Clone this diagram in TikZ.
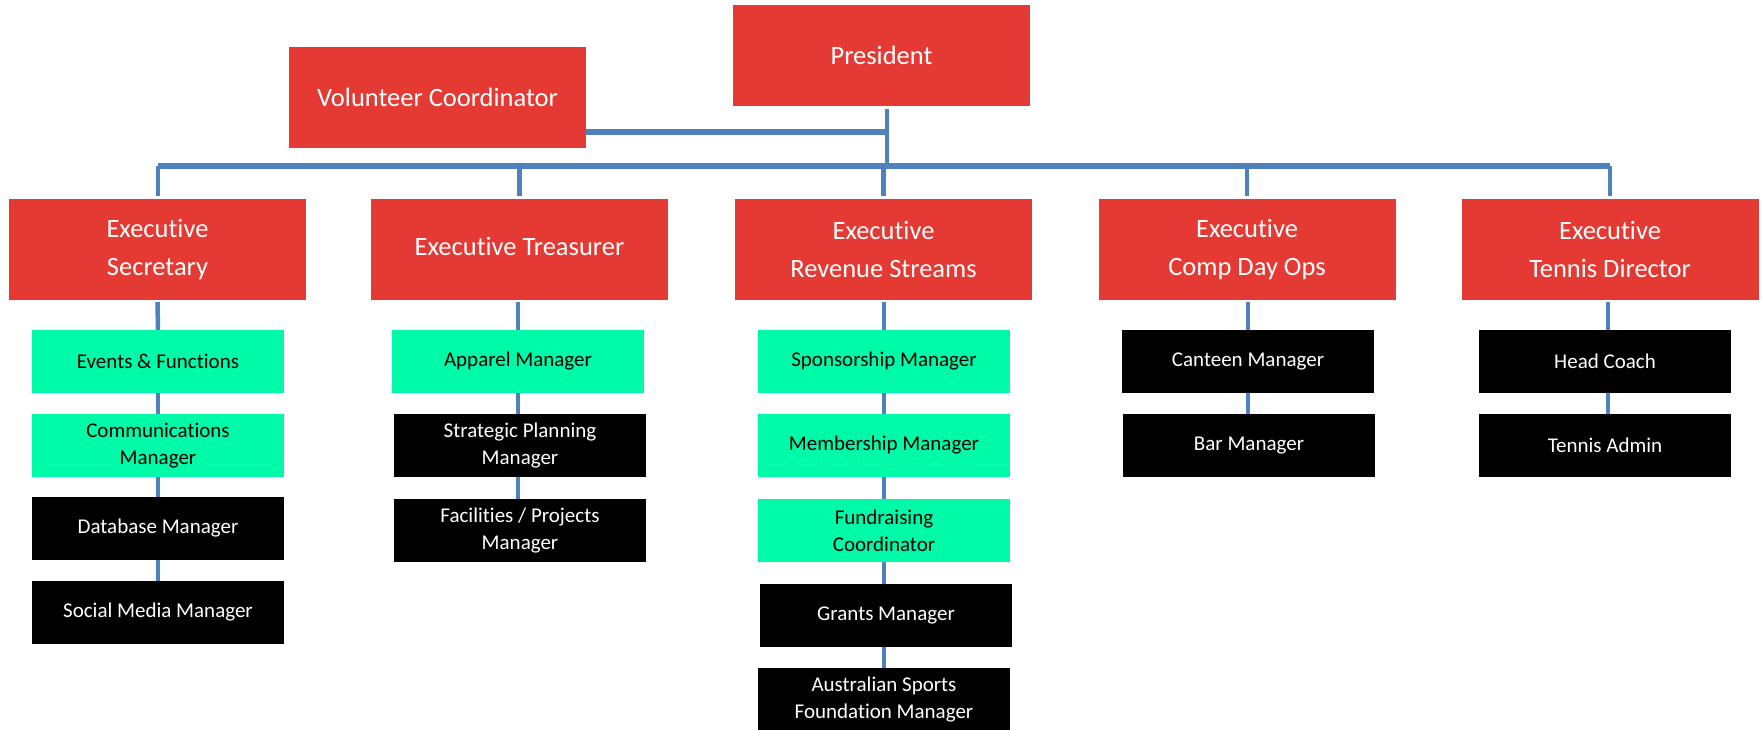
\documentclass[tikz,border=0pt]{standalone}
\usepackage{fontspec}
\setmainfont[Ligatures=NoCommon]{Carlito}
\definecolor{boxred}{HTML}{E53A33}
\definecolor{boxgreen}{HTML}{00FBA8}
\definecolor{linkblue}{HTML}{4F81BD}
\begin{document}
\begin{tikzpicture}[x=1pt,y=-1pt,
  redbox/.style={fill=boxred,text=white,minimum width=297pt,minimum height=101pt,inner sep=0pt,outer sep=0pt,align=center,font=\fontsize{26.5}{38}\selectfont},
  greenbox/.style={fill=boxgreen,text=black,minimum width=252pt,minimum height=63pt,inner sep=0pt,outer sep=0pt,align=center,font=\fontsize{21}{27}\selectfont},
  blackbox/.style={fill=black,text=white,minimum width=252pt,minimum height=63pt,inner sep=0pt,outer sep=0pt,align=center,font=\fontsize{21}{27}\selectfont},
  link/.style={draw=linkblue,line width=4.5pt},
  buslink/.style={draw=linkblue,line width=5.5pt}]
\useasboundingbox (0,0) rectangle (1763,729);
% top level
\node[redbox] (pres) at (881.5,55.5) {President};
\node[redbox] (vol) at (437.5,97.5) {Volunteer Coordinator};
% executives
\node[redbox] (e1) at (157.5,249.5) {Executive\\Secretary};
\node[redbox,text depth=6pt] (e2) at (519.5,249.5) {Executive Treasurer};
\node[redbox] (e3) at (883.5,249.5) {Executive\\Revenue Streams};
\node[redbox] (e4) at (1247,249.5) {Executive\\Comp Day Ops};
\node[redbox] (e5) at (1610,249.5) {Executive\\Tennis Director};
% column 1
\node[greenbox] (c1a) at (158,361.5) {Events \& Functions};
\node[greenbox] (c1b) at (158,445.5) {Communications\\Manager};
\node[blackbox] (c1c) at (158,528.5) {Database Manager};
\node[blackbox] (c1d) at (158,612.5) {Social Media Manager};
% column 2
\node[greenbox] (c2a) at (518,361.5) {Apparel Manager};
\node[blackbox] (c2b) at (520,445.5) {Strategic Planning\\Manager};
\node[blackbox] (c2c) at (520,530.5) {Facilities / Projects\\Manager};
% column 3
\node[greenbox] (c3a) at (884,361.5) {Sponsorship Manager};
\node[greenbox] (c3b) at (884,445.5) {Membership Manager};
\node[greenbox] (c3c) at (884,530.5) {Fundraising\\Coordinator};
\node[blackbox] (c3d) at (886,615.5) {Grants Manager};
\node[blackbox] (c3e) at (884,699) {Australian Sports\\Foundation Manager};
% column 4
\node[blackbox] (c4a) at (1248,361.5) {Canteen Manager};
\node[blackbox] (c4b) at (1249,445.5) {Bar Manager};
% column 5
\node[blackbox] (c5a) at (1605,361.5) {Head Coach};
\node[blackbox] (c5b) at (1605,445.5) {Tennis Admin};
% bus coordinates
\coordinate (busL) at (158,166);
\coordinate (busR) at (1610,166);
\coordinate (pj) at (887,166);
\coordinate (vj) at (887,132);
\coordinate (c5x) at (1608,0);
% connectors
\draw[link] ([yshift=-3pt]pres.south -| pj) -- (pj);
\draw[buslink] (vol.east |- vj) -- (vj);
\draw[buslink] (busL) -- (busR);
\draw[link] (busL) -- ([yshift=3pt]e1.north -| busL);
\draw[link] (e2.north |- busL) -- ([yshift=3pt]e2.north);
\draw[link] (e3.north |- busL) -- ([yshift=3pt]e3.north);
\draw[link] (e4.north |- busL) -- ([yshift=3pt]e4.north);
\draw[link] (busR) -- ([yshift=3pt]e5.north -| busR);
% column lines
\draw[link] ([yshift=-2pt]e1.south) -- (c1a.north);
\draw[link] (c1a.south) -- (c1b.north);
\draw[link] (c1b.south) -- (c1c.north);
\draw[link] (c1c.south) -- (c1d.north);
\draw[link] ([yshift=-2pt]e2.south -| c2a.north) -- (c2a.north);
\draw[link] (c2a.south) -- (c2a.south |- c2b.north);
\draw[link] (c2b.south -| c2a.south) -- (c2c.north -| c2a.south);
\draw[link] ([yshift=-2pt]e3.south -| c3a.north) -- (c3a.north);
\draw[link] (c3a.south) -- (c3b.north);
\draw[link] (c3b.south) -- (c3c.north);
\draw[link] (c3c.south) -- (c3c.south |- c3d.north);
\draw[link] (c3d.south -| c3e.north) -- (c3e.north);
\draw[link] ([yshift=-2pt]e4.south -| c4a.north) -- (c4a.north);
\draw[link] (c4a.south) -- (c4a.south |- c4b.north);
\draw[link] ([yshift=-2pt]e5.south -| c5x) -- (c5a.north -| c5x);
\draw[link] (c5a.south -| c5x) -- (c5b.north -| c5x);
\end{tikzpicture}
\end{document}
